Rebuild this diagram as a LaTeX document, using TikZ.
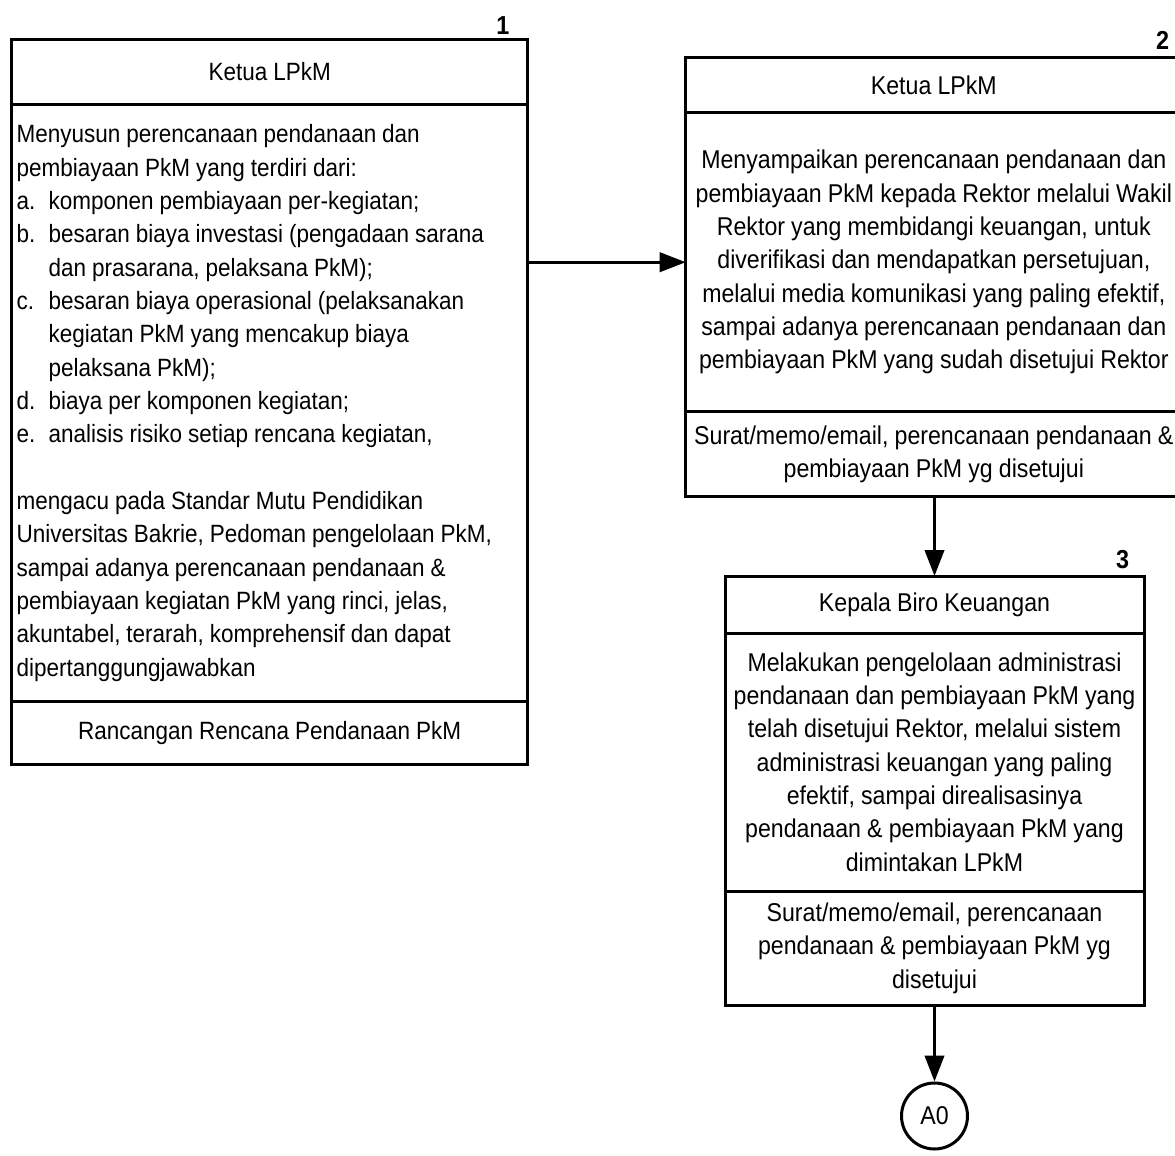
\documentclass[tikz,border=0pt]{standalone}
\usepackage{fontspec}
\setmainfont{Liberation Sans}
\newfontfamily\narrowsans[FakeStretch=0.9,WordSpace=0.95]{Liberation Sans}
\usetikzlibrary{arrows.meta}
\newcommand\itemlbl[1]{\makebox[24pt][l]{#1}}
\begin{document}
\begin{tikzpicture}[x=0.75pt,y=-0.75pt,
  boxpart/.style={draw, line width=2.25pt, rectangle, outer sep=0pt, inner sep=0pt, anchor=north west},
  fA/.style={font=\narrowsans\fontsize{18.75pt}{25pt}\selectfont},
  fB/.style={font=\narrowsans\fontsize{19.3pt}{25pt}\selectfont},
  numlbl/.style={font=\narrowsans\bfseries\fontsize{19.5pt}{20pt}\selectfont, inner sep=0pt},
  arr/.style={line width=2.25pt, -{Triangle[length=19.5pt,width=14.5pt]}}]
\useasboundingbox (0,0) rectangle (1175,1156);

% Box 1
\node[boxpart, fA, minimum width=387pt, minimum height=48.75pt, align=center] (b1h) at (11.7,39.3) {Ketua LPkM};
\node[boxpart, fA, minimum width=387pt, minimum height=448pt, text width=379.5pt, inner xsep=3.75pt, align=flush left] (b1b) at (b1h.south west) {%
Menyusun perencanaan pendanaan dan\\
pembiayaan PkM yang terdiri dari:\\
\itemlbl{a.}komponen pembiayaan per-kegiatan;\\
\itemlbl{b.}besaran biaya investasi (pengadaan sarana\\
\itemlbl{}dan prasarana, pelaksana PkM);\\
\itemlbl{c.}besaran biaya operasional (pelaksanakan\\
\itemlbl{}kegiatan PkM yang mencakup biaya\\
\itemlbl{}pelaksana PkM);\\
\itemlbl{d.}biaya per komponen kegiatan;\\
\itemlbl{e.}analisis risiko setiap rencana kegiatan,\\[25pt]
mengacu pada Standar Mutu Pendidikan\\
Universitas Bakrie, Pedoman pengelolaan PkM,\\
sampai adanya perencanaan pendanaan \&\\
pembiayaan kegiatan PkM yang rinci, jelas,\\
akuntabel, terarah, komprehensif dan dapat\\
dipertanggungjawabkan};
\node[boxpart, fA, minimum width=387pt, minimum height=47pt, align=center] (b1f) at (b1b.south west) {Rancangan Rencana Pendanaan PkM};
\node[numlbl] (n1) at (503,25.7) {1};

% Box 2
\node[boxpart, fB, minimum width=372.2pt, minimum height=41.25pt, align=center] (b2h) at (685.7,57.7) {Ketua LPkM};
\node[boxpart, fB, minimum width=372.2pt, minimum height=224.25pt, align=center] (b2b) at (b2h.south west) {%
Menyampaikan perencanaan pendanaan dan\\
pembiayaan PkM kepada Rektor melalui Wakil\\
Rektor yang membidangi keuangan, untuk\\
diverifikasi dan mendapatkan persetujuan,\\
melalui media komunikasi yang paling efektif,\\
sampai adanya perencanaan pendanaan dan\\
pembiayaan PkM yang sudah disetujui Rektor};
\node[boxpart, fB, minimum width=372.2pt, minimum height=63.75pt, align=center] (b2f) at (b2b.south west) {%
Surat/memo/email, perencanaan pendanaan \&\\
pembiayaan PkM yg disetujui};
\node[numlbl] (n2) at (1162.5,40.5) {2};

% Box 3
\node[boxpart, fB, minimum width=314.25pt, minimum height=42.75pt, align=center] (b3h) at (725,576) {Kepala Biro Keuangan};
\node[boxpart, fB, minimum width=314.25pt, minimum height=193.5pt, align=center] (b3b) at (b3h.south west) {%
Melakukan pengelolaan administrasi\\
pendanaan dan pembiayaan PkM yang\\
telah disetujui Rektor, melalui sistem\\
administrasi keuangan yang paling\\
efektif, sampai direalisasinya\\
pendanaan \& pembiayaan PkM yang\\
dimintakan LPkM};
\node[boxpart, fB, minimum width=314.25pt, minimum height=86pt, align=center] (b3f) at (b3b.south west) {%
Surat/memo/email, perencanaan\\
pendanaan \& pembiayaan PkM yg\\
disetujui};
\node[numlbl] (n3) at (1122.5,559.5) {3};

% Connector A0
\node[draw, circle, line width=2.25pt, minimum size=49.5pt, inner sep=0pt, fB] (a0) at (934.5,1116) {A0};

% Connectors
\draw[arr] (b1b.east |- b2b.west) -- (b2b.west);
\draw[arr] (b3h.north |- b2f.south) -- (b3h.north);
\draw[arr] (b3f.south) -- (a0.north);
\end{tikzpicture}
\end{document}
